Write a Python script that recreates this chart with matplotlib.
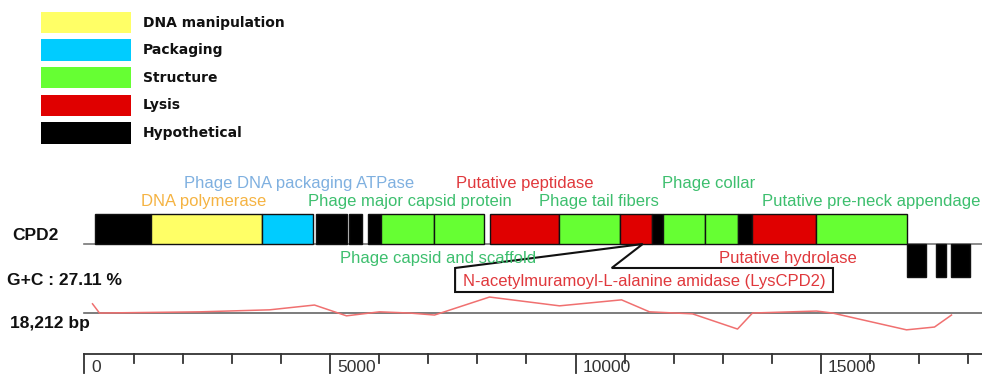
import matplotlib
matplotlib.use("Agg")
import matplotlib.pyplot as plt
import numpy as np
from matplotlib.patches import Rectangle, Polygon

# gene map of CPD2 (bp)
gene_start = [204, 1344, 3618, 4724, 5396, 5777, 6042, 7113, 8267, 9666, 10914,
              11562, 11778, 12635, 13303, 13582, 14905, 16738, 17348, 17648]
gene_end = [1344, 3618, 4643, 5349, 5655, 6042, 7113, 8141, 9666, 10914, 11562,
            11778, 12635, 13303, 13582, 14905, 16738, 17125, 17546, 18035]
gene_cat = ['Hypothetical', 'DNA manipulation', 'Packaging', 'Hypothetical', 'Hypothetical',
            'Hypothetical', 'Structure', 'Structure', 'Lysis', 'Structure', 'Lysis',
            'Hypothetical', 'Structure', 'Structure', 'Hypothetical', 'Lysis', 'Structure',
            'Hypothetical', 'Hypothetical', 'Hypothetical']
gene_strand = [1] * 17 + [-1] * 3

categories = ['DNA manipulation', 'Packaging', 'Structure', 'Lysis', 'Hypothetical']
cat_colors = ['#FFFF66', '#00CCFF', '#66FF33', '#E00000', '#000000']

# gene annotations: text, x position (bp), row ('top', 'mid', 'low')
label_text = ['Phage DNA packaging ATPase', 'DNA polymerase', 'Phage major capsid protein',
              'Putative peptidase', 'Phage tail fibers', 'Phage collar',
              'Putative pre-neck appendage', 'Phage capsid and scaffold', 'Putative hydrolase']
label_x = [4368, 2433, 6628, 8970, 10477, 12710, 16015, 7198, 14325]
label_row = ['top', 'mid', 'mid', 'top', 'mid', 'top', 'mid', 'low', 'low']
label_color = ['#7FB0E0', '#F5B342', '#3DBF6E', '#E0383C', '#3DBF6E', '#3DBF6E',
               '#3DBF6E', '#3DBF6E', '#E0383C']

lysin_label = 'N-acetylmuramoyl-L-alanine amidase (LysCPD2)'

genome_size = 18212
gc_mean = 27.11
gc_pos = [163, 305, 2342, 3767, 4683, 5335, 6007, 6618, 7127, 8247, 9672,
          10935, 11505, 12380, 13297, 13602, 14905, 15231, 16738, 17308, 17654]
gc_val = [29.4, 27.1, 27.4, 27.9, 29.1, 26.4, 27.4, 27.1, 26.6, 31.1, 28.9,
          30.4, 27.4, 26.9, 23.1, 27.1, 27.6, 27.1, 22.9, 23.6, 26.6]

# layout (pixel units on a 982 x 378 canvas)
W, H = 982, 378
px_per_bp = 0.04911
x_origin = 84.5
gene_top, gene_base, gene_bottom = 214, 244, 277
gc_base_y, gc_scale = 313, 4.0
bar_y = 354

fig = plt.figure(figsize=(W / 100, H / 100), dpi=100)
ax = fig.add_axes([0, 0, 1, 1])
ax.set_xlim(-x_origin / px_per_bp, (W - x_origin) / px_per_bp)
ax.set_ylim(H, 0)
ax.axis('off')

# overlay in pixel units for legend and side labels
lax = fig.add_axes([0, 0, 1, 1])
lax.set_xlim(0, W)
lax.set_ylim(H, 0)
lax.axis('off')
lax.patch.set_alpha(0)

# legend
for i, (cat, col) in enumerate(zip(categories, cat_colors)):
    y = 11.7 + i * 27.6
    lax.add_patch(Rectangle((40.7, y), 90, 21.5, facecolor=col, edgecolor='none'))
    lax.text(142.7, y + 11, cat, fontsize=10, fontweight='bold', va='center',
             ha='left', family='DejaVu Sans', color='#111111')

# side labels
side = dict(fontsize=12.5, fontweight='bold', family='Liberation Sans', ha='left',
            va='baseline', color='#111111')
lax.text(12.5, 240, 'CPD2', **side)
lax.text(7.5, 285, 'G+C : %.2f %%' % gc_mean, **side)
lax.text(10, 328, '{:,} bp'.format(genome_size), **side)

# genome baseline
ax.plot([0, genome_size + 100], [gene_base, gene_base], color='#777777', lw=1.2, zorder=1)

# genes
for s, e, c, st in zip(gene_start, gene_end, gene_cat, gene_strand):
    col = cat_colors[categories.index(c)]
    if st > 0:
        y0, h = gene_top, gene_base - gene_top
    else:
        y0, h = gene_base, gene_bottom - gene_base
    ax.add_patch(Rectangle((s, y0), e - s, h, facecolor=col, edgecolor='#111111',
                           lw=1.0, zorder=2))

# callout for the endolysin
lys = gene_cat.index('Lysis', 10)
tip_x = gene_start[lys] + 0.7 * (gene_end[lys] - gene_start[lys])
box_l, box_r, notch = 7546, 15241, 10735
callout = Polygon([(box_l, 268), (tip_x, gene_base), (notch, 268), (box_r, 268),
                   (box_r, 292), (box_l, 292)], closed=True, facecolor='none',
                  edgecolor='#111111', lw=1.5, zorder=3)
ax.add_patch(callout)
ax.text((box_l + box_r) / 2, 286, lysin_label, fontsize=12, family='Liberation Sans',
        color='#E0383C', ha='center', va='baseline', zorder=5)

# gene labels
row_y = {'top': 188, 'mid': 206, 'low': 263}
for t, x, r, c in zip(label_text, label_x, label_row, label_color):
    ax.text(x, row_y[r], t, fontsize=12, family='Liberation Sans', color=c,
            ha='center', va='baseline', zorder=5)

# GC content track
ax.plot([0, genome_size + 100], [gc_base_y, gc_base_y], color='#666666', lw=1.2, zorder=1)
gc_y = gc_base_y - (np.array(gc_val) - gc_mean) * gc_scale
ax.plot(gc_pos, gc_y, color='#F07070', lw=1.1, zorder=2)

# scale bar
ax.plot([0, genome_size + 100], [bar_y, bar_y], color='#333333', lw=1.3)
for t in np.arange(0, 18001, 1000):
    major = t % 5000 == 0
    ax.plot([t, t], [bar_y, bar_y + (19 if major else 9)], color='#333333', lw=1.3)
    if major:
        ax.text(t + 140, 368, str(t), fontsize=12.5, family='Liberation Sans',
                color='#333333', ha='left', va='center')

fig.savefig('out.png', dpi=100)
